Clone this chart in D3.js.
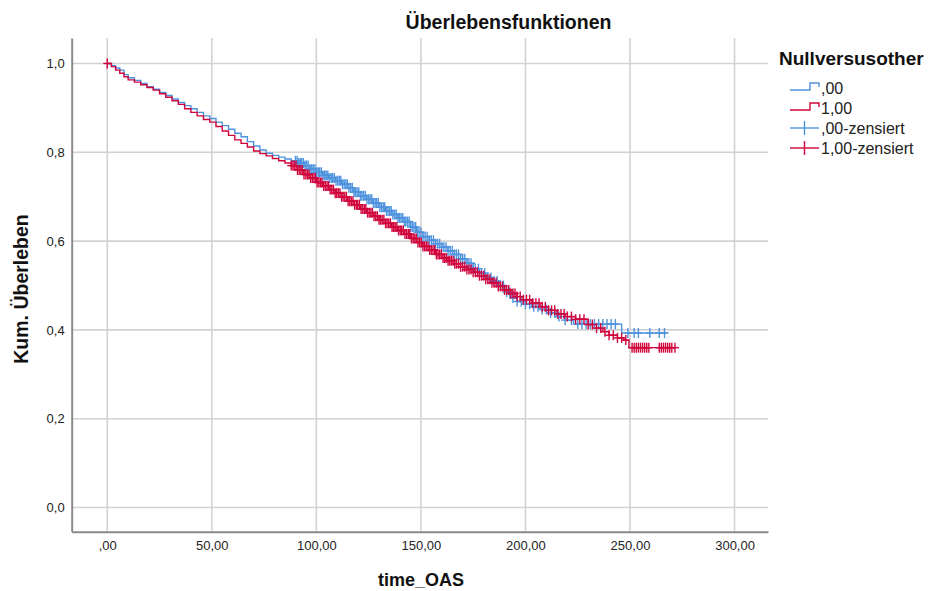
<!DOCTYPE html>
<html><head><meta charset="utf-8">
<script src="https://cdn.jsdelivr.net/npm/d3@7"></script>
<style>body{margin:0;background:#fff}text{font-family:"Liberation Sans",Arial,sans-serif}</style>
</head><body><svg id="c" width="931" height="591"></svg>
<script>
const title = "Überlebensfunktionen";
const xLabel = "time_OAS";
const yLabel = "Kum. Überleben";
const legendTitle = "Nullversusother";
const groups = [",00", "1,00"];
const legendLabels = [",00", "1,00", ",00-zensiert", "1,00-zensiert"];
const xTicks = [0, 50, 100, 150, 200, 250, 300];
const xTickLabels = [",00", "50,00", "100,00", "150,00", "200,00", "250,00", "300,00"];
const yTicks = [0, 0.2, 0.4, 0.6, 0.8, 1.0];
const yTickLabels = ["0,0", "0,2", "0,4", "0,6", "0,8", "1,0"];

// group ,00 : event times and survival after each step
const stepsG0 = [[0,1.0],[2,0.995],[4,0.99],[6,0.985],[8,0.975],[10,0.968],[13,0.962],[16,0.955],[19,0.948],[22,0.942],[25,0.935],[28,0.928],[31,0.92],[34,0.912],[37,0.905],[40,0.898],[43,0.89],[46,0.882],[49,0.876],[52,0.868],[55,0.86],[58,0.852],[61,0.843],[64,0.835],[67,0.824],[70,0.814],[73,0.805],[76,0.798],[79,0.793],[82,0.789],[85,0.785],[88,0.781],[91,0.776],[94,0.77],[97,0.762],[100,0.755],[103,0.748],[106,0.742],[109,0.736],[112,0.728],[115,0.72],[118,0.71],[121,0.702],[124,0.694],[127,0.686],[130,0.676],[133,0.668],[136,0.66],[139,0.652],[142,0.644],[145,0.632],[148,0.62],[151,0.61],[154,0.602],[157,0.594],[160,0.586],[163,0.578],[166,0.57],[169,0.56],[172,0.55],[175,0.538],[178,0.528],[181,0.518],[184,0.51],[187,0.5],[190,0.485],[193,0.472],[196,0.464],[199,0.458],[203,0.452],[207,0.446],[211,0.438],[215,0.43],[219,0.422],[223,0.413],[246,0.393]];
const endG0 = 268;
const censorG0 = [90,90.8,91.5,92.3,93,93.8,94.6,95.3,96.1,97,97.8,98.5,99.3,100.1,100.9,101.6,102.4,103.2,104,104.7,105.5,106.3,107.1,107.8,108.6,109.4,110.2,111,111.7,112.5,113.3,114.1,114.8,115.6,116.4,117.2,118,118.7,119.5,120.3,121.1,121.8,122.6,123.4,124.2,125,125.7,126.5,127.3,128.1,128.8,129.6,130.4,131.2,132,132.7,133.5,134.3,135.1,135.8,136.6,137.4,138.2,139,139.7,140.5,141.3,142.1,142.8,143.6,144.4,145.2,146,146.7,147.5,148.3,149.1,150,151,152,153,154,155,156,157,158,159,160,161,162,163,164,165,166,167,168,169,170,171,172,173,174,175,176,177.5,179,180.5,182,183.5,185,186.5,188,189.5,191,192.5,194,196,198,200,202,204,206,208,210,212,214,216,219,222,225,227,229,231,233,235,237,239,241,243,249,252,254,259.5,264,266.5];

// group 1,00
const stepsG1 = [[0,1.0],[2,0.993],[4,0.985],[6,0.978],[8,0.97],[10,0.963],[13,0.958],[16,0.952],[19,0.946],[22,0.94],[25,0.932],[28,0.924],[31,0.916],[34,0.908],[37,0.898],[40,0.89],[43,0.882],[46,0.874],[49,0.868],[52,0.858],[55,0.848],[58,0.838],[61,0.828],[64,0.82],[67,0.812],[70,0.803],[73,0.797],[76,0.792],[79,0.786],[82,0.781],[85,0.776],[88,0.77],[91,0.76],[94,0.75],[97,0.742],[100,0.732],[103,0.724],[106,0.716],[109,0.708],[112,0.7],[115,0.69],[118,0.682],[121,0.672],[124,0.664],[127,0.656],[130,0.648],[133,0.64],[136,0.632],[139,0.624],[142,0.616],[145,0.606],[148,0.597],[151,0.588],[154,0.58],[157,0.57],[160,0.562],[163,0.556],[166,0.549],[169,0.542],[172,0.536],[175,0.53],[178,0.522],[181,0.514],[184,0.506],[187,0.498],[190,0.49],[193,0.482],[196,0.475],[199,0.468],[203,0.46],[207,0.452],[211,0.444],[215,0.436],[219,0.43],[224,0.424],[230,0.412],[233,0.404],[237,0.396],[240,0.388],[244,0.382],[247,0.377],[249.5,0.36]];
const endG1 = 271.5;
const censorG1 = [0,88,88.8,89.5,90.3,91,91.8,92.6,93.3,94.1,95,95.8,96.5,97.3,98.1,98.9,99.6,100.4,101.2,102,102.7,103.5,104.3,105.1,105.8,106.6,107.4,108.2,109,109.7,110.5,111.3,112.1,112.8,113.6,114.4,115.2,116,116.7,117.5,118.3,119.1,119.8,120.6,121.4,122.2,123,123.7,124.5,125.3,126.1,126.8,127.6,128.4,129.2,130,130.7,131.5,132.3,133.1,133.8,134.6,135.4,136.2,137,137.7,138.5,139.3,140.1,140.8,141.6,142.4,143.2,144,144.7,145.5,146.3,147.1,147.8,148.6,149.4,150.2,151,151.8,152.6,153.4,154.2,155,155.8,156.6,157.4,158.2,159,159.8,160.6,161.4,162.2,163,163.8,164.6,165.4,166.2,167,168,169,170,171,172,173,174,175,176,177,178,179,180,181,182,183,184,185,186,187,188,189,190,191,192,193,194,195,196,197.5,199,200.5,202,203.5,205,206.5,208,209.5,211,212.5,214,215.5,217,218.5,220,222,224,226,228,230,232,234,236,238,240,242,244,246,248,251,252,253,254,255,256,257,258,259,264,265,266,267,268,269,270,271.5];

const colors = ["#4f93de", "#d0043c"];

const svg = d3.select("#c");
const x = d3.scaleLinear().domain([-17, 316]).range([71.7, 768]);
const y = d3.scaleLinear().domain([-0.0545, 1.0574]).range([531.7, 38]);

// gridlines
svg.append("g").selectAll("line").data(yTicks).join("line")
  .attr("x1", x(-17)).attr("x2", x(316)).attr("y1", d => y(d)).attr("y2", d => y(d))
  .attr("stroke", "#d2d2d2").attr("stroke-width", 1.6);
svg.append("g").selectAll("line").data(xTicks).join("line")
  .attr("y1", y(-0.0545)).attr("y2", y(1.0574)).attr("x1", d => x(d)).attr("x2", d => x(d))
  .attr("stroke", "#d2d2d2").attr("stroke-width", 1.6);

// axes
const xAxis = d3.axisBottom(x).tickValues(xTicks).tickSize(0).tickPadding(9)
  .tickFormat((d, i) => xTickLabels[i]);
const gx = svg.append("g").attr("transform", `translate(0,${y(-0.0545)})`).call(xAxis);
gx.select(".domain").attr("stroke", "#8a8a8a").attr("stroke-width", 2);
gx.selectAll("text").attr("font-size", 13).attr("fill", "#222").attr("font-family", "Liberation Sans, Arial");
const yAxis = d3.axisLeft(y).tickValues(yTicks).tickSize(0).tickPadding(7)
  .tickFormat((d, i) => yTickLabels[i]);
const gy = svg.append("g").attr("transform", `translate(${x(-17)},0)`).call(yAxis);
gy.select(".domain").attr("stroke", "#8a8a8a").attr("stroke-width", 2);
gy.selectAll("text").attr("font-size", 13).attr("fill", "#222").attr("font-family", "Liberation Sans, Arial");

// curves
const line = d3.line().x(d => x(d[0])).y(d => y(d[1])).curve(d3.curveStepAfter);
function survAt(steps, t) {
  let v = steps[0][1];
  for (const s of steps) { if (s[0] <= t) v = s[1]; else break; }
  return v;
}
const series = [
  {steps: stepsG0, end: endG0, cens: censorG0, color: colors[0]},
  {steps: stepsG1, end: endG1, cens: censorG1, color: colors[1]}
];
series.forEach(s => {
  const pts = s.steps.concat([[s.end, s.steps[s.steps.length - 1][1]]]);
  svg.append("path").attr("d", line(pts)).attr("fill", "none")
    .attr("stroke", s.color).attr("stroke-width", 1.4);
});
series.forEach(s => {
  const g = svg.append("g").attr("stroke", s.color).attr("stroke-width", 1.4);
  s.cens.forEach(t => {
    const cx = x(t), cy = y(survAt(s.steps, t));
    g.append("line").attr("x1", cx - 4).attr("x2", cx + 4).attr("y1", cy).attr("y2", cy);
    g.append("line").attr("x1", cx).attr("x2", cx).attr("y1", cy - 5).attr("y2", cy + 5);
  });
});

// titles
svg.append("text").attr("x", 508.5).attr("y", 22).attr("text-anchor", "middle")
  .attr("dominant-baseline", "central").attr("font-size", 19.5).attr("font-weight", "bold")
  .attr("fill", "#111").text(title);
svg.append("text").attr("x", 421).attr("y", 580).attr("text-anchor", "middle")
  .attr("dominant-baseline", "central").attr("font-size", 18).attr("font-weight", "bold")
  .attr("fill", "#111").text(xLabel);
svg.append("text").attr("transform", "translate(21,289) rotate(-90)").attr("text-anchor", "middle")
  .attr("dominant-baseline", "central").attr("font-size", 19.5).attr("font-weight", "bold")
  .attr("fill", "#111").text(yLabel);

// legend
const lg = svg.append("g");
lg.append("text").attr("x", 779).attr("y", 58).attr("dominant-baseline", "central")
  .attr("font-size", 19).attr("font-weight", "bold").attr("fill", "#111").text(legendTitle);
const rowY = [88, 108, 128, 148];
legendLabels.forEach((lab, i) => {
  const c = colors[i % 2];
  const yy = rowY[i];
  if (i < 2) {
    lg.append("path").attr("d", `M790,${yy + 2}H810V${yy - 5}H819V${yy - 1}`)
      .attr("fill", "none").attr("stroke", c).attr("stroke-width", 1.4);
  } else {
    lg.append("line").attr("x1", 790).attr("x2", 819).attr("y1", yy).attr("y2", yy).attr("stroke", c).attr("stroke-width", 1.4);
    lg.append("line").attr("x1", 804.5).attr("x2", 804.5).attr("y1", yy - 7).attr("y2", yy + 7).attr("stroke", c).attr("stroke-width", 1.4);
  }
  lg.append("text").attr("x", 821).attr("y", yy).attr("dominant-baseline", "central")
    .attr("font-size", 16).attr("fill", "#222").text(lab);
});
</script></body></html>
